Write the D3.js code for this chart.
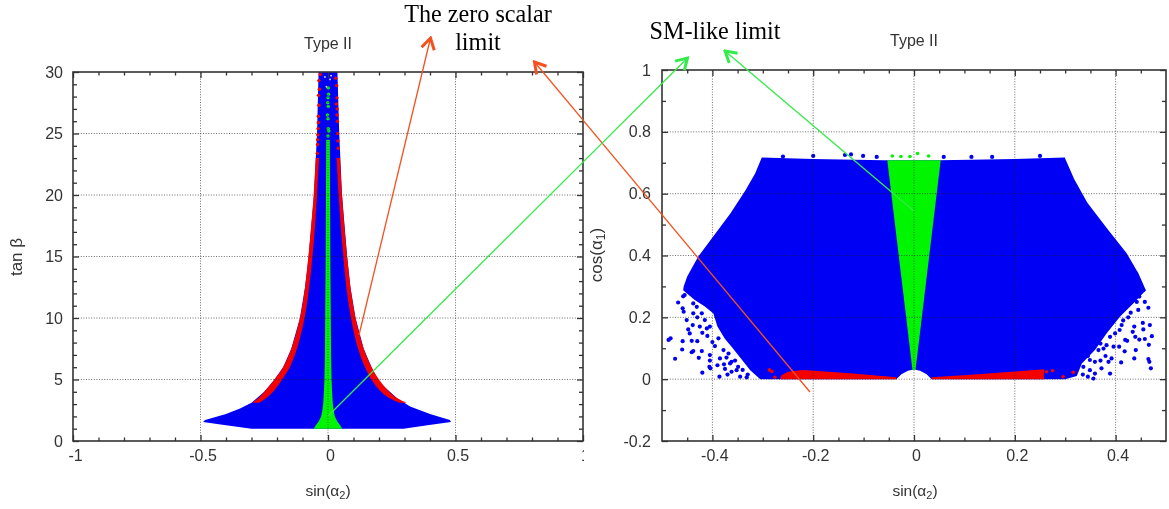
<!DOCTYPE html>
<html><head><meta charset="utf-8">
<script src="https://cdn.jsdelivr.net/npm/d3@7"></script>
<style>
html,body{margin:0;padding:0;background:#fff;overflow:hidden}
svg{display:block}
.plot{filter:blur(0.7px)}
.plot text{font-family:"Liberation Sans",Arial,sans-serif;fill:#333}
.note{font-family:"Liberation Serif","Times New Roman",serif;font-size:24.2px;fill:#000;text-anchor:middle}
</style></head><body>
<svg id="c" width="1169" height="509"></svg>
<script>
// ---------- left panel: tan beta vs sin(alpha2) ----------
const leftXTicks = [-1, -0.5, 0, 0.5, 1];
const leftYTicks = [0, 5, 10, 15, 20, 25, 30];
const leftXMinor = [-0.9,-0.8,-0.7,-0.6,-0.4,-0.3,-0.2,-0.1,0.1,0.2,0.3,0.4,0.6,0.7,0.8,0.9];
const leftYMinor = [1,2,3,4,6,7,8,9,11,12,13,14,16,17,18,19,21,22,23,24,26,27,28,29];
const leftBlue = [[-0.037,30],[-0.043,25],[-0.055,20],[-0.076,15],[-0.09,12.5],[-0.11,10],[-0.144,7.5],[-0.176,6],[-0.21,5],[-0.25,4],[-0.3,3.1],[-0.345,2.65],[-0.4,2.2],[-0.482,1.7],[-0.49,1.55],[-0.4,1.28],[-0.3,1],[0.296,1],[0.39,1.28],[0.482,1.55],[0.478,1.7],[0.4,2.2],[0.322,2.8],[0.27,3.5],[0.2,4.8],[0.171,6],[0.14,7.5],[0.108,10],[0.088,12.5],[0.075,15],[0.055,20],[0.044,25],[0.037,30]];
const redTan = [3.1,3.5,4,5,6,7.5,10,12.5,15,17.5,20,23];
const redRightOuter = [0.31,0.27,0.24,0.2,0.171,0.14,0.108,0.088,0.075,0.064,0.055,0.047];
const redRightInner = [0.282,0.24,0.208,0.17,0.145,0.118,0.09,0.072,0.06,0.05,0.042,0.034];
const redLeftOuter = [-0.298,-0.272,-0.25,-0.21,-0.176,-0.144,-0.11,-0.09,-0.077,-0.066,-0.056,-0.048];
const redLeftInner = [-0.27,-0.242,-0.215,-0.18,-0.15,-0.122,-0.092,-0.074,-0.061,-0.051,-0.043,-0.035];
const greenTan = [1,1.3,1.6,2,2.5,3,4,5,7,10,15,20,24.5];
const greenHalf = [0.056,0.047,0.036,0.027,0.022,0.019,0.016,0.014,0.012,0.011,0.009,0.008,0.007];
const leftRedDots = [[-0.036,29.3],[-0.037,28.1],[-0.036,27.3],[-0.038,26.4],[-0.039,25.4],[-0.04,24.9],[-0.041,24.1],[-0.042,23.4],[0.034,28.9],[0.035,27.9],[0.036,27],[0.037,26],[0.038,25],[0.04,23.8],[0.03,29.5],[-0.03,29.8],[-0.034,28.6],[0.033,27.4],[0.036,26.5],[-0.038,25.9],[0.039,24.4],[-0.041,24.5]];
const leftGreenDots = [[0.001,28.7],[0,27.9],[0.001,27.2],[0,26.2],[0.001,25.4],[0,24.8],[-0.002,26.5],[0.003,25.2],[0.002,28.2],[-0.001,27.5]];
const leftWhiteDots = [[-0.012,29.6],[0.008,29.4],[-0.006,28.8],[0.012,29.7]];

// ---------- right panel: cos(alpha1) vs sin(alpha2) ----------
const rightXTicks = [-0.4,-0.2,0,0.2,0.4];
const rightYTicks = [-0.2,0,0.2,0.4,0.6,0.8,1];
const rightXMinor = [-0.45,-0.35,-0.3,-0.25,-0.15,-0.1,-0.05,0.05,0.1,0.15,0.25,0.3,0.35,0.45];
const rightYMinor = [-0.1,0.1,0.3,0.5,0.7,0.9];
const rightBlue = [[-0.302,0.717],[-0.2,0.712],[-0.05,0.708],[0.05,0.708],[0.2,0.712],[0.299,0.717],[0.318,0.647],[0.344,0.571],[0.385,0.483],[0.422,0.407],[0.445,0.343],[0.46,0.288],[0.435,0.245],[0.409,0.203],[0.382,0.148],[0.359,0.094],[0.333,0.051],[0.323,0.01],[0.3,0],[0.035,0],[0.025,0.016],[0.012,0.027],[0,0.031],[-0.012,0.027],[-0.025,0.016],[-0.035,0],[-0.305,0],[-0.325,0.029],[-0.345,0.07],[-0.362,0.105],[-0.375,0.13],[-0.39,0.17],[-0.398,0.212],[-0.415,0.235],[-0.435,0.256],[-0.458,0.288],[-0.457,0.3],[-0.45,0.332],[-0.428,0.397],[-0.401,0.456],[-0.364,0.537],[-0.334,0.612],[-0.315,0.666]];
const rightRedL = [[-0.265,0],[-0.264,0.012],[-0.25,0.024],[-0.22,0.03],[-0.12,0.018],[-0.035,0.006],[-0.035,0]];
const rightRedR = [[0.035,0],[0.035,0.006],[0.12,0.015],[0.2,0.025],[0.258,0.032],[0.258,0]];
const rightGreen = [[-0.053,0.708],[0.053,0.708],[0.003,0.03],[-0.003,0.03]];
const scatterBlue = [[-0.468,0.248],[-0.458,0.268],[-0.455,0.272],[-0.459,0.229],[-0.457,0.218],[-0.451,0.191],[-0.439,0.175],[-0.448,0.161],[-0.445,0.148],[-0.487,0.127],[-0.483,0.132],[-0.459,0.123],[-0.441,0.124],[-0.43,0.123],[-0.46,0.096],[-0.441,0.087],[-0.438,0.091],[-0.421,0.091],[-0.474,0.066],[-0.427,0.069],[-0.405,0.078],[-0.395,0.107],[-0.385,0.067],[-0.405,0.06],[-0.406,0.04],[-0.404,0.035],[-0.42,0.021],[-0.377,0.048],[-0.365,0.051],[-0.375,0.033],[-0.362,0.024],[-0.386,0.008],[-0.345,0.008],[-0.352,0.029],[-0.332,0.006],[-0.438,0.245],[-0.431,0.234],[-0.438,0.213],[-0.421,0.213],[-0.415,0.191],[-0.425,0.17],[-0.411,0.164],[-0.401,0.229],[-0.405,0.17],[-0.388,0.132],[-0.378,0.094],[-0.368,0.083],[-0.362,0.056],[-0.349,0.04],[-0.43,0.2],[-0.42,0.15],[-0.41,0.14],[-0.4,0.12],[-0.372,0.07],[-0.355,0.06],[-0.34,0.03],[-0.33,0.015],[-0.37,0.015],[-0.39,0.045],
[0.455,0.288],[0.445,0.283],[0.447,0.267],[0.442,0.25],[0.458,0.25],[0.465,0.231],[0.445,0.224],[0.454,0.182],[0.468,0.175],[0.437,0.17],[0.455,0.161],[0.434,0.153],[0.472,0.139],[0.439,0.137],[0.447,0.128],[0.458,0.13],[0.466,0.111],[0.419,0.127],[0.423,0.124],[0.44,0.094],[0.418,0.09],[0.407,0.105],[0.411,0.054],[0.437,0.067],[0.465,0.065],[0.467,0.056],[0.47,0.035],[0.392,0.067],[0.386,0.056],[0.389,0.018],[0.382,0.11],[0.396,0.105],[0.376,0.099],[0.366,0.094],[0.349,0.062],[0.359,0.056],[0.336,0.04],[0.349,0.029],[0.372,0.035],[0.359,0.018],[0.408,0.159],[0.412,0.175],[0.399,0.148],[0.389,0.137],[0.356,0.002],[0.425,0.2],[0.43,0.215],[0.415,0.19],[0.37,0.115],[0.345,0.075],[0.335,0.015],[0.345,0.008],[0.37,0.06],[0.38,0.075],
[-0.137,0.725],[-0.125,0.727],[-0.101,0.722],[-0.074,0.719],[0.059,0.719],[0.114,0.719],[0.155,0.719],[-0.2,0.722],[-0.26,0.72],[0.25,0.722]];
const scatterRed = [[-0.287,0.03],[-0.282,0.025],[-0.276,0.006],[0.263,0.024],[0.275,0.027],[0.296,0.008],[0.316,0.022]];
const scatterGreen = [[-0.043,0.722],[-0.026,0.72],[0.007,0.73],[0.029,0.722],[-0.008,0.72]];

const BLUE="#0000f5", RED="#f50000", GREEN="#00f500", INK="#333";
const svg=d3.select("#c");
const defs=svg.append("defs");
defs.append("clipPath").attr("id","clipTick").append("rect").attr("x",0).attr("y",0).attr("width",584).attr("height",509);
[["arrO","#f4511e"],["arrG","#35ea4a"]].forEach(([id,col])=>{
  defs.append("marker").attr("id",id).attr("markerUnits","userSpaceOnUse").attr("viewBox","-14 -9 16 18")
    .attr("markerWidth",16).attr("markerHeight",18).attr("refX",0).attr("refY",0).attr("orient","auto")
    .append("path").attr("d","M-11,-6.5L0,0L-11,6.5").attr("fill","none").attr("stroke",col).attr("stroke-width",3);
});

function panel(o){
  const g=svg.append("g").attr("class","plot");
  const x=d3.scaleLinear().domain(o.xDom).range([o.l,o.r]);
  const y=d3.scaleLinear().domain(o.yDom).range([o.b,o.t]);
  const poly=d3.line().x(d=>x(d[0])).y(d=>y(d[1]));
  o.draw(g,x,y,poly);
  const grid=g.append("g").attr("fill","none").attr("stroke","#222").attr("stroke-opacity",0.65).attr("stroke-width",1).attr("stroke-dasharray","1 1.6");
  grid.selectAll("line.v").data(o.xTicks.filter(v=>v>o.xDom[0]&&v<o.xDom[1])).join("line").attr("x1",x).attr("x2",x).attr("y1",o.b).attr("y2",o.t);
  grid.selectAll("line.h").data(o.yTicks.filter(v=>v>o.yDom[0]&&v<o.yDom[1])).join("line").attr("y1",y).attr("y2",y).attr("x1",o.l).attr("x2",o.r);
  const fmt=d=>String(d);
  const H=o.b-o.t,W=o.r-o.l;
  const style=a=>{a.select(".domain").remove();a.selectAll("line").attr("stroke",INK).attr("stroke-width",1.3);};
  [[d3.axisBottom,o.b],[d3.axisTop,o.t]].forEach(([ax,py])=>{
    g.append("g").attr("transform",`translate(0,${py})`).call(ax(x).tickValues(o.xMinor).tickSize(-3.5).tickFormat("")).call(style);
    g.append("g").attr("transform",`translate(0,${py})`).call(ax(x).tickValues(o.xTicks).tickSize(-6).tickFormat("")).call(style);
  });
  [[d3.axisLeft,o.l],[d3.axisRight,o.r]].forEach(([ax,px])=>{
    g.append("g").attr("transform",`translate(${px},0)`).call(ax(y).tickValues(o.yMinor).tickSize(-4).tickFormat("")).call(style);
    g.append("g").attr("transform",`translate(${px},0)`).call(ax(y).tickValues(o.yTicks).tickSize(-6).tickFormat("")).call(style);
  });
  g.append("rect").attr("x",o.l).attr("y",o.t).attr("width",W).attr("height",H).attr("fill","none").attr("stroke",INK).attr("stroke-width",1.6);
  const bl=g.append("g").attr("transform",`translate(0,${o.b})`).call(d3.axisBottom(x).tickValues(o.xTicks).tickSize(0).tickPadding(9).tickFormat(fmt));
  bl.select(".domain").remove();
  bl.selectAll("text").attr("font-size",o.fs).attr("font-family","Liberation Sans").attr("dx",o.dx).attr("fill",INK);
  if(o.clipLast) bl.attr("clip-path","url(#clipTick)");
  const ll=g.append("g").attr("transform",`translate(${o.l},0)`).call(d3.axisLeft(y).tickValues(o.yTicks).tickSize(0).tickPadding(o.pad).tickFormat(fmt));
  ll.select(".domain").remove();
  ll.selectAll("text").attr("font-size",o.fs).attr("font-family","Liberation Sans").attr("fill",INK);
  g.append("text").attr("x",o.titleX).attr("y",o.titleY).attr("text-anchor","middle").attr("font-size",16).text("Type II");
  const xl=g.append("text").attr("x",o.xLabX).attr("y",496).attr("text-anchor","middle").attr("font-size",15.5);
  xl.append("tspan").text("sin(α");
  xl.append("tspan").attr("font-size",11).attr("dy",3).text("2");
  xl.append("tspan").attr("dy",-3).text(")");
  const yl=g.append("text").attr("transform",`translate(${o.yLabX},${o.yLabY}) rotate(-90)`).attr("text-anchor","middle").attr("font-size",17);
  o.yLab(yl);
}

panel({l:73,r:583,t:72,b:441,xDom:[-1,1],yDom:[0,30],xTicks:leftXTicks,yTicks:leftYTicks,xMinor:leftXMinor,yMinor:leftYMinor,
  fs:16,dx:2,pad:10,clipLast:true,titleX:328,titleY:49,xLabX:328,yLabX:22,yLabY:257,
  yLab:t=>t.text("tan β"),
  draw:(g,x,y,poly)=>{
    g.append("path").attr("d",poly(leftBlue)+"Z").attr("fill",BLUE);
    const band=d3.area().y(i=>y(redTan[i])).curve(d3.curveCatmullRom);
    const idx=redTan.map((_,i)=>i);
    g.append("path").attr("d",band.x0(i=>x(redRightOuter[i])).x1(i=>x(redRightInner[i]))(idx)).attr("fill",RED);
    g.append("path").attr("d",band.x0(i=>x(redLeftOuter[i])).x1(i=>x(redLeftInner[i]))(idx)).attr("fill",RED);
    g.append("g").selectAll("circle").data(leftRedDots).join("circle").attr("cx",d=>x(d[0])).attr("cy",d=>y(d[1])).attr("r",1.7).attr("fill",RED);
    g.append("path").attr("d",poly(greenTan.map((t,i)=>[-greenHalf[i],t]).concat(greenTan.map((t,i)=>[greenHalf[i],t]).reverse()))+"Z").attr("fill",GREEN);
    g.append("g").selectAll("circle").data(leftGreenDots).join("circle").attr("cx",d=>x(d[0])).attr("cy",d=>y(d[1])).attr("r",1.7).attr("fill",GREEN);
    g.append("g").selectAll("circle").data(leftWhiteDots).join("circle").attr("cx",d=>x(d[0])).attr("cy",d=>y(d[1])).attr("r",0.9).attr("fill","#dfe0ff");
  }});

panel({l:662,r:1166,t:70,b:441,xDom:[-0.5,0.5],yDom:[-0.2,1],xTicks:rightXTicks,yTicks:rightYTicks,xMinor:rightXMinor,yMinor:rightYMinor,
  fs:16,dx:2,pad:11,clipLast:false,titleX:914,titleY:46,xLabX:915,yLabX:602,yLabY:255,
  yLab:t=>{t.append("tspan").text("cos(α");t.append("tspan").attr("font-size",12).attr("dy",3).text("1");t.append("tspan").attr("dy",-3).text(")");},
  draw:(g,x,y,poly)=>{
    g.append("path").attr("d",poly(rightBlue)+"Z").attr("fill",BLUE);
    g.append("g").selectAll("circle").data(scatterBlue).join("circle").attr("cx",d=>x(d[0])).attr("cy",d=>y(d[1])).attr("r",2.1).attr("fill",BLUE);
    g.append("path").attr("d",poly(rightRedL)+"Z").attr("fill",RED);
    g.append("path").attr("d",poly(rightRedR)+"Z").attr("fill",RED);
    g.append("g").selectAll("circle").data(scatterRed).join("circle").attr("cx",d=>x(d[0])).attr("cy",d=>y(d[1])).attr("r",1.8).attr("fill",RED);
    g.append("path").attr("d",poly(rightGreen)+"Z").attr("fill",GREEN);
    g.append("g").selectAll("circle").data(scatterGreen).join("circle").attr("cx",d=>x(d[0])).attr("cy",d=>y(d[1])).attr("r",1.8).attr("fill",GREEN);
  }});

// ---------- annotations ----------
const notes=svg.append("g");
const arrow=(a,b,c,d,col,m)=>notes.append("line").attr("x1",a).attr("y1",b).attr("x2",c).attr("y2",d).attr("stroke",col).attr("stroke-width",1.3).attr("marker-end",`url(#${m})`);
arrow(359,335,430.5,38,"#f4511e","arrO");
arrow(810,392,534.5,62,"#f4511e","arrO");
arrow(328,416,687.5,58,"#35ea4a","arrG");
arrow(914,211,725,51,"#35ea4a","arrG");
notes.append("text").attr("class","note").attr("x",478).attr("y",22).text("The zero scalar");
notes.append("text").attr("class","note").attr("x",478).attr("y",50).text("limit");
notes.append("text").attr("class","note").attr("x",715).attr("y",39).text("SM-like limit");
</script>
</body></html>
